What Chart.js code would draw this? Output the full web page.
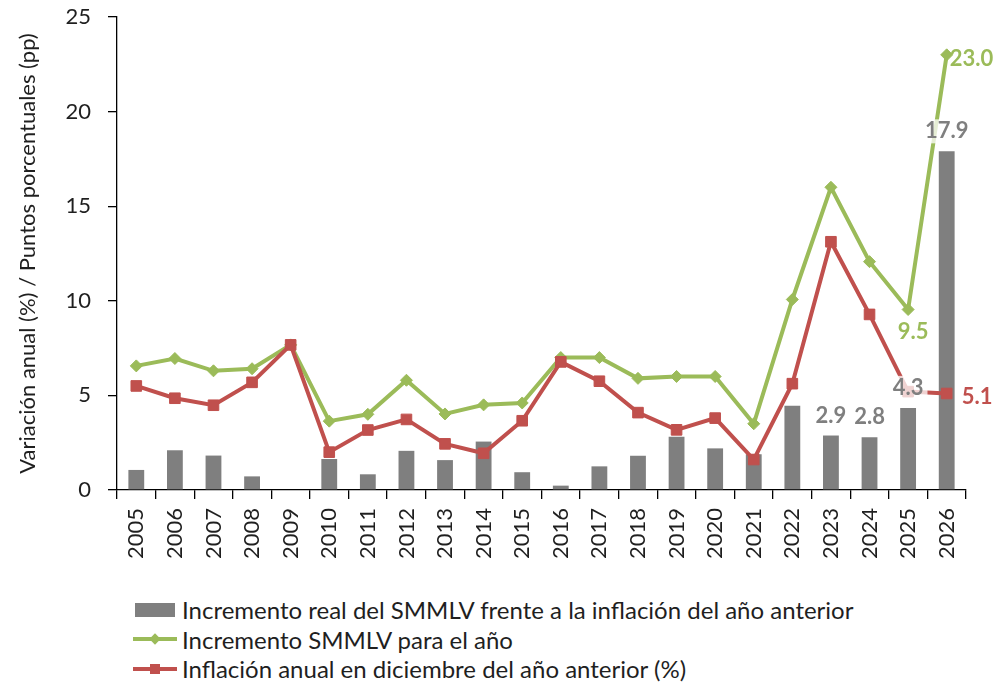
<!DOCTYPE html>
<html>
<head>
<meta charset="utf-8">
<script src="https://cdn.jsdelivr.net/npm/chart.js@4.4.0/dist/chart.umd.min.js"></script>
<style>
  html, body { margin: 0; padding: 0; background: #fff; }
  #wrap { position: relative; width: 994px; height: 684px; font-family: Lato, sans-serif; color: #1f1f1f; }
  #chartBox { position: absolute; left: 0; top: 0; width: 994px; height: 560px; }
  .legend { position: absolute; left: 133px; top: 595px; }
  .lg-row { display: flex; align-items: center; height: 29.5px; font-size: 24px; white-space: nowrap; }
  .lg-mark { position: relative; width: 44px; height: 16px; margin-right: 5px; flex: none; }
  .lg-mark .bar { position: absolute; left: 2px; top: 1px; width: 40px; height: 14px; }
  .lg-mark .ln { position: absolute; left: 0; top: 6px; width: 44px; height: 4px; }
  .lg-mark .dia { position: absolute; left: 18px; top: 4px; width: 8px; height: 8px; transform: rotate(45deg); }
  .lg-mark .sq { position: absolute; left: 17px; top: 3px; width: 10px; height: 10px; }
</style>
</head>
<body>
<div id="wrap">
  <div id="chartBox"><canvas id="c" width="994" height="560"></canvas></div>
  <div class="legend" id="legend"></div>
</div>
<script>
// años y series
const years = ['2005','2006','2007','2008','2009','2010','2011','2012','2013','2014','2015',
               '2016','2017','2018','2019','2020','2021','2022','2023','2024','2025','2026'];
const realIncrease = [1.06, 2.10, 1.82, 0.72, 0.00, 1.64, 0.83, 2.07, 1.58, 2.56, 0.94,
                      0.23, 1.25, 1.81, 2.82, 2.20, 1.89, 4.45, 2.88, 2.79, 4.34, 17.90];
const wageIncrease = [6.56, 6.95, 6.30, 6.41, 7.67, 3.64, 4.00, 5.80, 4.02, 4.50, 4.60,
                      7.00, 7.00, 5.90, 6.00, 6.00, 3.50, 10.07, 16.00, 12.07, 9.54, 23.00];
const inflationPrev = [5.50, 4.85, 4.48, 5.69, 7.67, 2.00, 3.17, 3.73, 2.44, 1.94, 3.66,
                       6.77, 5.75, 4.09, 3.18, 3.80, 1.61, 5.62, 13.12, 9.28, 5.20, 5.10];
const yTicks = [0, 5, 10, 15, 20, 25];

const seriesNames = [
  'Incremento real del SMMLV frente a la inflación del año anterior',
  'Incremento SMMLV para el año',
  'Inflación anual en diciembre del año anterior (%)'
];
const GREY = '#7f7f7f', GREEN = '#9bbb59', RED = '#c0504d';
const TXT = '#1f1f1f';

// etiquetas de valor que se muestran: [dataset, índice, posición]
const labelSpecs = [
  [0, 18, 'top'], [0, 19, 'top'], [0, 20, 'top'], [0, 21, 'top'],
  [1, 20, 'below'], [1, 21, 'right'],
  [2, 21, 'right']
];

const valueLabels = {
  id: 'valueLabels',
  afterDatasetsDraw(chart) {
    const ctx = chart.ctx;
    ctx.save();
    ctx.font = 'bold 22px Lato';
    ctx.textBaseline = 'middle';
    labelSpecs.forEach(([d, i, pos]) => {
      const ds = chart.data.datasets[d];
      const el = chart.getDatasetMeta(d).data[i];
      const txt = ds.data[i].toFixed(1);
      const w = ctx.measureText(txt).width;
      let x = el.x, y = el.y;
      if (pos === 'top') {
        y -= 20;
        ctx.fillStyle = 'rgba(255,255,255,0.75)';
        ctx.fillRect(x - w / 2 - 4, y - 12, w + 8, 24);
        ctx.textAlign = 'center';
      } else if (pos === 'below') {
        x += 5; y += 22;
        ctx.textAlign = 'center';
      } else {
        x += (d === 2 ? 15 : 3); y += (d === 2 ? 3 : 4);
        ctx.textAlign = 'left';
      }
      ctx.fillStyle = ds.labelColor;
      ctx.fillText(txt, x, y);
    });
    ctx.restore();
  }
};

new Chart(document.getElementById('c').getContext('2d'), {
  type: 'bar',
  data: {
    labels: years,
    datasets: [
      { type: 'bar', label: seriesNames[0], data: realIncrease, backgroundColor: GREY, labelColor: GREY,
        barPercentage: 0.41, categoryPercentage: 1, order: 3 },
      { type: 'line', label: seriesNames[1], data: wageIncrease, borderColor: GREEN, backgroundColor: GREEN,
        labelColor: GREEN, borderWidth: 4, pointStyle: 'rectRot', pointRadius: 6, pointBorderWidth: 1,
        tension: 0, order: 2 },
      { type: 'line', label: seriesNames[2], data: inflationPrev, borderColor: RED, backgroundColor: RED,
        labelColor: RED, borderWidth: 4, pointStyle: 'rect', pointRadius: 7.5, pointBorderWidth: 1,
        tension: 0, order: 1 }
    ]
  },
  options: {
    responsive: false, animation: false,
    layout: { padding: { top: 17, right: 28, left: 0, bottom: 0 } },
    plugins: { legend: { display: false }, tooltip: { enabled: false } },
    scales: {
      x: {
        offset: true,
        grid: { drawOnChartArea: false, drawTicks: true, tickLength: 9, color: '#000', lineWidth: 1.3, offset: true },
        border: { color: '#000', width: 1.3 },
        ticks: { autoSkip: false, minRotation: 90, maxRotation: 90, padding: 9, color: TXT, font: { family: 'Lato', size: 22 } },
        afterFit: s => { s.height = 70; }
      },
      y: {
        min: 0, max: 25,
        afterBuildTicks: s => { s.ticks = yTicks.map(v => ({ value: v })); },
        grid: { drawOnChartArea: false, drawTicks: true, tickLength: 9, color: '#000', lineWidth: 1.3 },
        border: { color: '#000', width: 1.3 },
        ticks: { padding: 17, color: TXT, font: { family: 'Lato', size: 22 } },
        title: { display: true, text: 'Variación anual (%) / Puntos porcentuales (pp)', color: TXT,
                 font: { family: 'Lato', size: 22 }, padding: { top: 15, bottom: 0 } },
        afterFit: s => { s.width = 117; s.paddingTop = 0; s.paddingBottom = 0; }
      }
    }
  },
  plugins: [valueLabels]
});

// leyenda
const lg = document.getElementById('legend');
const marks = [
  `<div class="bar" style="background:${GREY}"></div>`,
  `<div class="ln" style="background:${GREEN}"></div><div class="dia" style="background:${GREEN}"></div>`,
  `<div class="ln" style="background:${RED}"></div><div class="sq" style="background:${RED}"></div>`
];
seriesNames.forEach((n, i) => {
  lg.insertAdjacentHTML('beforeend', `<div class="lg-row"><div class="lg-mark">${marks[i]}</div><span>${n}</span></div>`);
});
</script>
</body>
</html>
